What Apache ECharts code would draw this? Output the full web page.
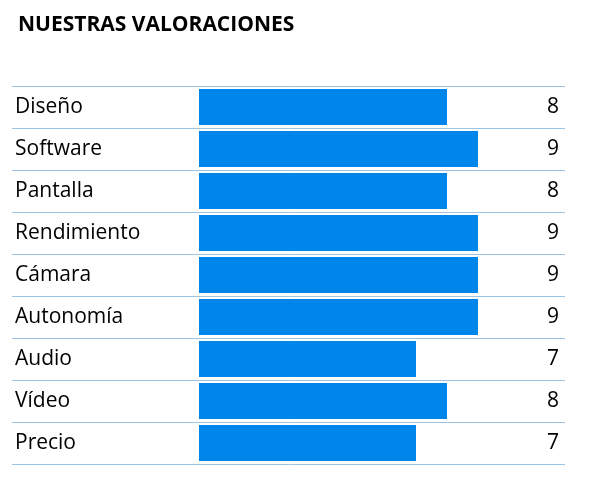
<!DOCTYPE html>
<html><head><meta charset="utf-8">
<script src="https://cdn.jsdelivr.net/npm/echarts@6/dist/echarts.min.js"></script>
<style>html,body{margin:0;padding:0;background:#fff}#c{width:591px;height:480px}</style>
</head><body><div id="c"></div>
<script>
const categories = ["Diseño","Software","Pantalla","Rendimiento","Cámara","Autonomía","Audio","Vídeo","Precio"];
const values = [8,9,8,9,9,9,7,8,7];
const chart = echarts.init(document.getElementById('c'));
const font = "'Open Sans', 'Liberation Sans', sans-serif";
chart.setOption({
  animation:false,
  title:{text:"NUESTRAS VALORACIONES",left:13,top:10,textStyle:{fontFamily:font,fontWeight:'bold',fontSize:21,color:'#000'}},
  grid:[
    {left:199,right:113,top:86,height:378},
    {left:12,right:26,top:86,height:378}
  ],
  xAxis:[
    {gridIndex:0,type:'value',min:0,max:9,show:false},
    {gridIndex:1,type:'value',min:0,max:1,show:false}
  ],
  yAxis:[
    {gridIndex:0,type:'category',data:categories,inverse:true,show:false},
    {gridIndex:1,type:'category',data:categories,inverse:true,position:'left',
     axisLine:{show:false},axisTick:{show:false},
     splitLine:{show:true,lineStyle:{color:'#9DC3E6',width:1}},
     axisLabel:{inside:true,margin:3,fontFamily:font,fontSize:21,color:'#000'}},
    {gridIndex:1,type:'category',data:values.map(String),inverse:true,position:'right',
     axisLine:{show:false},axisTick:{show:false},splitLine:{show:false},
     axisLabel:{inside:true,margin:6,fontFamily:font,fontSize:21,color:'#000'}}
  ],
  series:[{type:'bar',xAxisIndex:0,yAxisIndex:0,data:values,barWidth:36,itemStyle:{color:'#0086EA'}}]
});
</script></body></html>
